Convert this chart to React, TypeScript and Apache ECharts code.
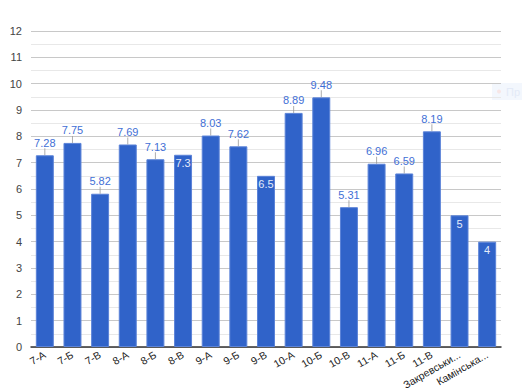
import React, { useEffect, useRef } from "react";
import * as echarts from "echarts";

const categories = ["7-А", "7-Б", "7-В", "8-А", "8-Б", "8-В", "9-А", "9-Б", "9-В", "10-А", "10-Б", "10-В", "11-А", "11-Б", "11-В", "Закревськи...", "Камінська..."];
const values = [7.28, 7.75, 5.82, 7.69, 7.13, 7.3, 8.03, 7.62, 6.5, 8.89, 9.48, 5.31, 6.96, 6.59, 8.19, 5, 4];
const insideLabel = [false, false, false, false, false, true, false, false, true, false, false, false, false, false, false, true, true];
const yTicks = { min: 0, max: 12, interval: 1 };

export default function App() {
  const ref = useRef<HTMLDivElement>(null);
  useEffect(() => {
    const chart = echarts.init(ref.current!, null, { renderer: "svg" });
    const font = "Arial, 'Liberation Sans', sans-serif";
    chart.setOption({
      animation: false,
      textStyle: { fontFamily: font },
      grid: { left: 31, right: 21, top: 31, bottom: 41, containLabel: false, outerBoundsMode: "none" },
      xAxis: {
        type: "category",
        data: categories,
        axisLine: { lineStyle: { color: "#333", width: 1.5 } },
        axisTick: { show: false },
        axisLabel: { rotate: 30, fontSize: 10.5, color: "#222", margin: 7, interval: 0, fontFamily: font },
      },
      yAxis: {
        type: "value",
        min: yTicks.min,
        max: yTicks.max,
        interval: yTicks.interval,
        axisLine: { show: false },
        axisTick: { show: false },
        axisLabel: { fontSize: 11, color: "#444", margin: 9, fontFamily: font },
        splitLine: { lineStyle: { color: "#c8c8c8", width: 1 } },
        minorTick: { show: false, splitNumber: 2 },
        minorSplitLine: { show: true, lineStyle: { color: "#e8e8e8", width: 1 } },
      },
      series: [
        {
          type: "bar",
          barWidth: "65%",
          data: values.map((v, i) => ({
            value: v,
            label: insideLabel[i]
              ? { show: true, position: "insideTop", distance: 3, color: "#e4ebfa", fontSize: 11 }
              : { show: true, position: "top", distance: 7, color: "#3f6fd6", fontSize: 11 },
          })),
          itemStyle: { color: "#3063c9", borderColor: "#5b83d8", borderWidth: 1 },
          label: { fontFamily: font },
          z: 2,
        },
        {
          type: "scatter",
          data: values.map((v, i) => (insideLabel[i] ? "-" : v)),
          symbol: "rect",
          symbolSize: [1, 7],
          symbolOffset: [0, "-50%"],
          itemStyle: { color: "#999" },
          silent: true,
          z: 3,
        },
      ],
      graphic: [
        {
          type: "group",
          left: 492,
          top: 83,
          children: [
            { type: "rect", shape: { x: 0, y: 0, width: 40, height: 17 }, style: { fill: "#f3f7fd" } },
            { type: "circle", shape: { cx: 7, cy: 8.5, r: 2 }, style: { fill: "#f7e6e6" } },
            { type: "text", x: 14, y: 3, style: { text: "Пр", fill: "#e3eaf7", fontSize: 11, fontFamily: font } },
          ],
        },
      ],
    });
    return () => chart.dispose();
  }, []);
  return <div ref={ref} style={{ width: 522, height: 388, position: "absolute", left: 0, top: 0 }} />;
}
